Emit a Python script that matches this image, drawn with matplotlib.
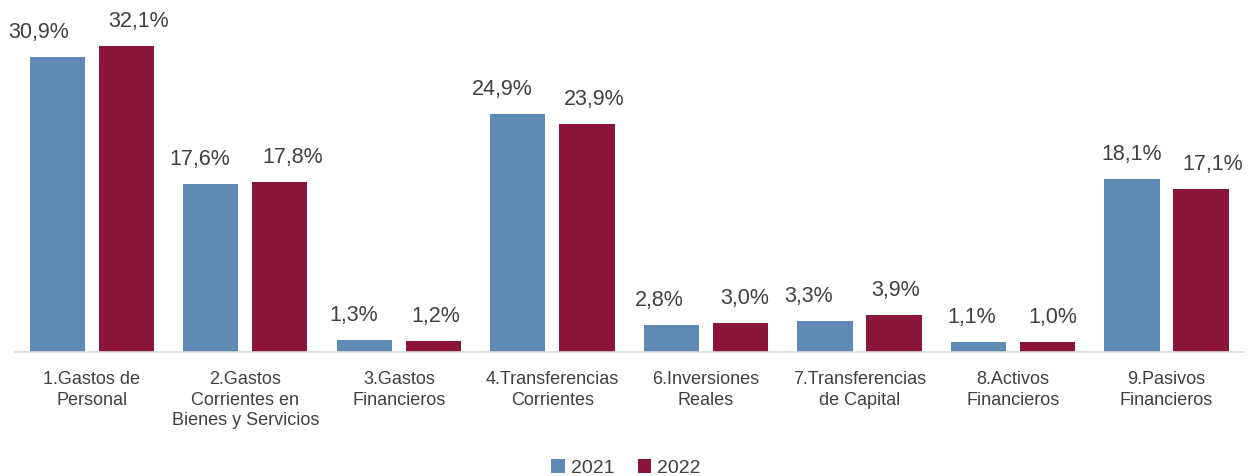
import numpy as np
import matplotlib.pyplot as plt

plt.rcParams['font.family'] = ['Liberation Sans', 'DejaVu Sans']

categories = ['1.Gastos de\nPersonal', '2.Gastos\nCorrientes en\nBienes y Servicios',
              '3.Gastos\nFinancieros', '4.Transferencias\nCorrientes', '6.Inversiones\nReales',
              '7.Transferencias\nde Capital', '8.Activos\nFinancieros', '9.Pasivos\nFinancieros']
values_2021 = [30.9, 17.6, 1.3, 24.9, 2.8, 3.3, 1.1, 18.1]
values_2022 = [32.1, 17.8, 1.2, 23.9, 3.0, 3.9, 1.0, 17.1]
series_names = ['2021', '2022']

# small horizontal nudges of the value labels (pixels), as placed in the original
nudge_2021 = [-19, -11, -11, -16, -12, -16, -7, 0]
nudge_2022 = [12, 13, 2, 7, 4, 2, 5, 12]

blue = '#5F8AB3'
maroon = '#8B1538'
text_color = '#404040'

fig = plt.figure(figsize=(12.52, 4.76), dpi=100)
ax = fig.add_axes([0.012, 0.2605, 0.981, 0.7015])

x = np.arange(len(categories))
width = 0.36
offset = 0.225

bars_a = ax.bar(x - offset, values_2021, width, color=blue, label=series_names[0])
bars_b = ax.bar(x + offset, values_2022, width, color=maroon, label=series_names[1])

for rects, nudges in ((bars_a, nudge_2021), (bars_b, nudge_2022)):
    for r, dx in zip(rects, nudges):
        v = r.get_height()
        ax.annotate(f'{v:.1f}%'.replace('.', ','), (r.get_x() + r.get_width() / 2, v),
                    xytext=(dx, 14), textcoords='offset pixels', ha='center', va='bottom',
                    fontsize=15.5, color=text_color)

ax.set_xlim(-0.5, len(categories) - 0.5)
ax.set_ylim(0, 35)
ax.set_yticks([])
ax.set_xticks(x)
ax.set_xticklabels(categories, fontsize=13, color=text_color, linespacing=1.25)
ax.tick_params(axis='x', length=0, pad=14)
for s in ['top', 'right', 'left']:
    ax.spines[s].set_visible(False)
ax.spines['bottom'].set_color('#D9D9D9')
ax.spines['bottom'].set_linewidth(1.2)

leg = fig.legend(loc='lower center', bbox_to_anchor=(0.5, -0.038), ncol=2, frameon=False,
                 fontsize=14, handlelength=0.7, handleheight=0.7, handletextpad=0.3,
                 columnspacing=1.2)
for t in leg.get_texts():
    t.set_color(text_color)

plt.savefig('out.png', dpi=100)
plt.close()
